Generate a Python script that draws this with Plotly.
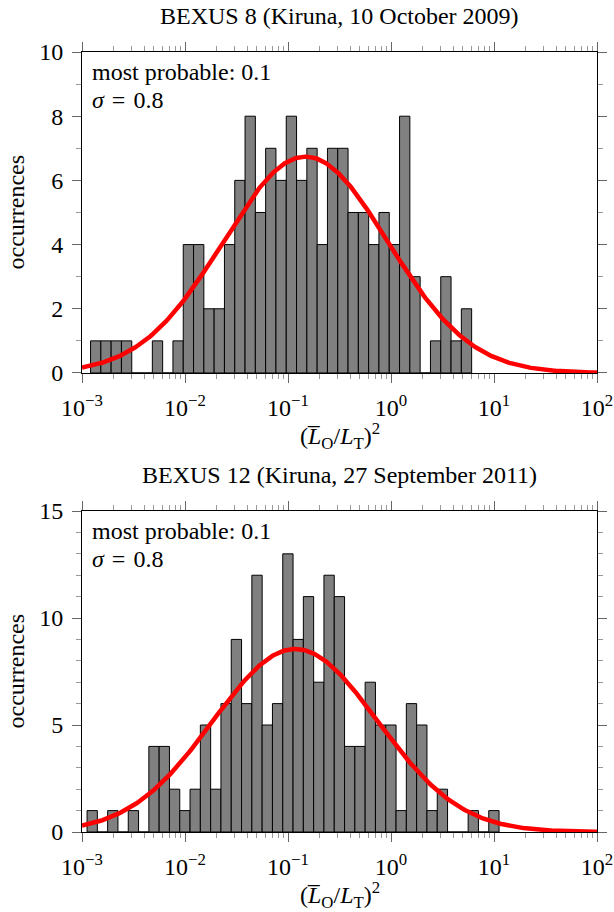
import numpy as np
import plotly.graph_objects as go

# ---------------- data ----------------
bin_width_dec = 0.1  # bin width in decades

top_title = "BEXUS 8 (Kiruna, 10 October 2009)"
top_first_edge = -2.917  # log10 of left edge of first bin
top_counts = [1, 1, 1, 1, 0, 0, 1, 0, 1, 4, 4, 2, 2, 4, 6, 8, 5, 7, 6, 8,
              6, 7, 4, 7, 7, 5, 5, 4, 5, 4, 8, 3, 0, 1, 3, 1, 2]
top_fit = dict(mu=-0.83, sigma=0.8, amp=6.74)

bot_title = "BEXUS 12 (Kiruna, 27 September 2011)"
bot_first_edge = -2.951
bot_counts = [1, 0, 1, 0, 1, 0, 4, 4, 2, 1, 2, 5, 2, 6, 9, 6, 12, 5, 6, 13,
              9, 11, 7, 12, 11, 4, 4, 7, 5, 5, 1, 6, 5, 1, 2, 0, 0, 1, 0, 1]
bot_fit = dict(mu=-0.93, sigma=0.8, amp=8.55)

x_exponents = [-3, -2, -1, 0, 1, 2]
x_ticktext = ["10<sup>\u2212%d</sup>" % (-e) if e < 0 else "10<sup>%d</sup>" % e for e in x_exponents]
annot_lines = ["most probable: 0.1", "<i>\u03c3</i>\u2004=\u20040.8"]
xlabel = "(<i>L\u0305</i><sub>O</sub>/<i>L</i><sub>T</sub>)<sup>2</sup>"
ylabel = "occurrences"

FONT = "Liberation Serif"
FS = 24

def centers(first_edge, counts):
    return [first_edge + bin_width_dec * (i + 0.5) for i in range(len(counts))]

def fit_curve(p):
    xs = np.linspace(-3, 2, 400)
    ys = p["amp"] * np.exp(-(xs - p["mu"]) ** 2 / (2 * p["sigma"] ** 2))
    return xs, ys

minor_vals = [d + np.log10(k) for d in range(-3, 2) for k in range(2, 10)]

fig = go.Figure()
for i, (fe, cnt, fit) in enumerate([(top_first_edge, top_counts, top_fit),
                                     (bot_first_edge, bot_counts, bot_fit)]):
    xa = "x" if i == 0 else "x2"
    ya = "y" if i == 0 else "y2"
    fig.add_trace(go.Bar(x=centers(fe, cnt), y=cnt, width=bin_width_dec,
                         marker=dict(color="#808080", line=dict(color="black", width=1)),
                         xaxis=xa, yaxis=ya, showlegend=False, hoverinfo="skip"))
    cx, cy = fit_curve(fit)
    fig.add_trace(go.Scatter(x=cx, y=cy, mode="lines", line=dict(color="#ff0000", width=4.5),
                             xaxis=xa, yaxis=ya, showlegend=False, cliponaxis=False,
                             hoverinfo="skip"))

tf = dict(family=FONT, size=FS, color="black")

def xaxis_cfg(anchor):
    return dict(anchor=anchor, range=[-3, 2], tickmode="array", tickvals=x_exponents,
                ticktext=x_ticktext, ticks="outside", ticklen=9, tickcolor="#666",
                showline=True, linecolor="black", linewidth=1, mirror="ticks",
                showgrid=False, zeroline=False, automargin=False,
                tickfont=tf, ticklabelstandoff=4,
                minor=dict(tickmode="array", tickvals=minor_vals, ticks="outside",
                           ticklen=5, tickcolor="#999", showgrid=False))

def yaxis_cfg(anchor, dom, rng, dt):
    return dict(anchor=anchor, domain=dom, range=rng, dtick=dt, tick0=0,
                ticks="outside", ticklen=9, tickcolor="#666",
                showline=True, linecolor="black", linewidth=1, mirror="ticks",
                showgrid=False, zeroline=False, automargin=False,
                tickfont=tf, ticklabelstandoff=4,
                minor=dict(dtick=1, ticks="outside", ticklen=5, tickcolor="#999", showgrid=False))

top_dom = [0.5885, 1.0]
bot_dom = [0.0, 0.4115]

fig.update_layout(
    width=614, height=912,
    margin=dict(l=82, r=17, t=52, b=80),
    paper_bgcolor="white", plot_bgcolor="white",
    bargap=0, showlegend=False, hovermode=False,
    font=tf,
    xaxis=xaxis_cfg("y"),
    yaxis=yaxis_cfg("x", top_dom, [0, 10], 2),
    xaxis2=xaxis_cfg("y2"),
    yaxis2=yaxis_cfg("x2", bot_dom, [0, 15], 5),
)

annots = []
for title, dom in [(top_title, top_dom), (bot_title, bot_dom)]:
    annots.append(dict(text=title, xref="paper", yref="paper", x=0.5, y=dom[1],
                       yshift=36, xanchor="center", yanchor="middle", showarrow=False, font=tf))
    annots.append(dict(text=xlabel, xref="paper", yref="paper", x=0.5, y=dom[0],
                       yshift=-63, xanchor="center", yanchor="middle", showarrow=False, font=tf))
    annots.append(dict(text=ylabel, xref="paper", yref="paper", x=0, y=(dom[0] + dom[1]) / 2,
                       xshift=-66, xanchor="center", yanchor="middle", textangle=-90,
                       showarrow=False, font=tf))
    for j, line in enumerate(annot_lines):
        annots.append(dict(text=line, xref="paper", yref="paper", x=0, y=dom[1],
                           xshift=8, yshift=-20 - 28 * j, xanchor="left", yanchor="middle",
                           showarrow=False, font=tf))
fig.update_layout(annotations=annots)

fig.write_html("out.html", config={"displayModeBar": False, "staticPlot": True},
               post_script="document.body.style.margin='0';document.body.style.overflow='hidden';")
